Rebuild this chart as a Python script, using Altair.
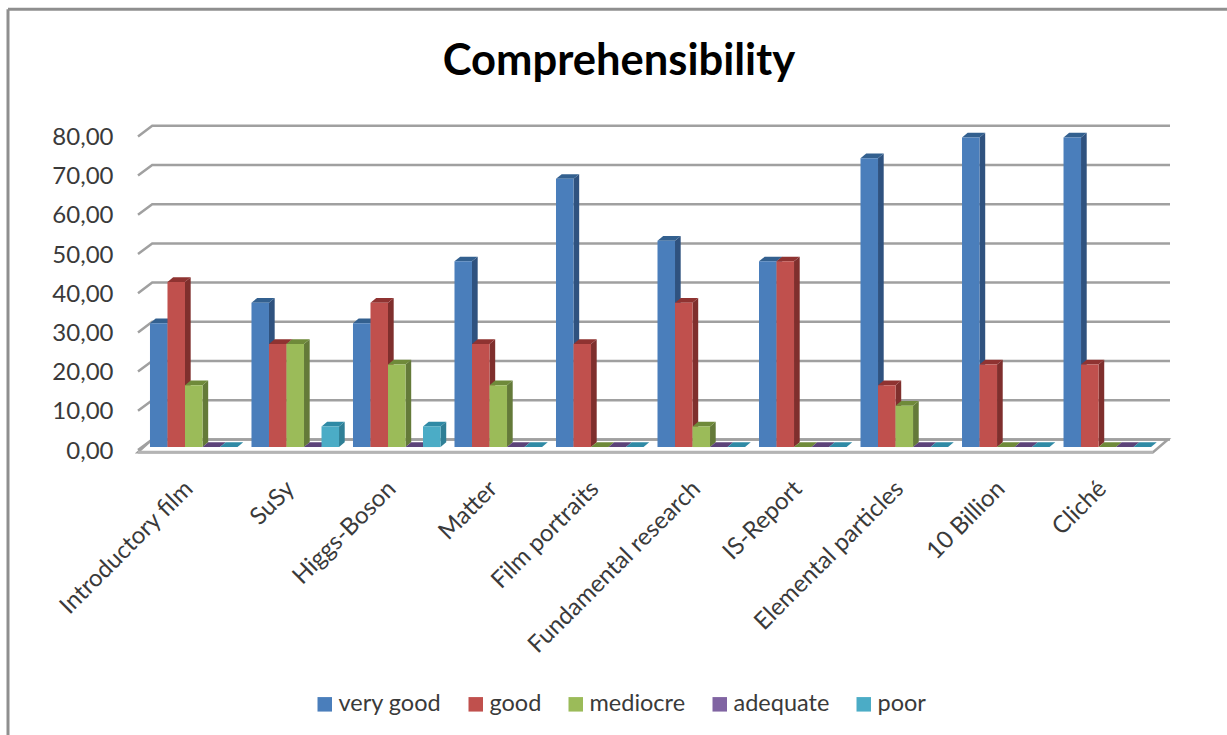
import altair as alt
import pandas as pd

# Share of answers per rating, percent of respondents
categories = ["Introductory film", "SuSy", "Higgs-Boson", "Matter", "Film portraits",
              "Fundamental research", "IS-Report", "Elemental particles", "10 Billion", "Cliché"]
series = ["very good", "good", "mediocre", "adequate", "poor"]
very_good = [31.58, 36.84, 31.58, 47.37, 68.42, 52.63, 47.37, 73.68, 78.95, 78.95]
good = [42.11, 26.32, 36.84, 26.32, 26.32, 36.84, 47.37, 15.79, 21.05, 21.05]
mediocre = [15.79, 26.32, 21.05, 15.79, 0, 5.26, 0, 10.53, 0, 0]
adequate = [0, 0, 0, 0, 0, 0, 0, 0, 0, 0]
poor = [0, 5.26, 5.26, 0, 0, 0, 0, 0, 0, 0]
ticks = [0, 10, 20, 30, 40, 50, 60, 70, 80]

front_colors = ["#4a7ebb", "#c0504d", "#9bbb59", "#8064a2", "#4bacc6"]
top_colors = ["#33608f", "#8f3331", "#6f8a3a", "#5c4379", "#2f8aa5"]
side_colors = ["#2f527f", "#7f2f2d", "#647a39", "#533c6c", "#2f7f96"]

FONT = "Lato"
TEXT = "#3a3a3a"
GRID = "#a0a0a0"

# Pseudo-3D projection, expressed in axis units
bar_w = 0.1725     # one bar, in category units
depth_x = 0.056    # bar depth along x
depth_y = 1.2      # bar depth along y
base_y = 0.75      # bars stand slightly behind the front edge of the floor
wall_x = 0.14      # wall depth along x
wall_y = 2.7       # wall depth along y
x_min, x_max = -0.118, 10.049
y_min, y_max = -1, 90

fronts, sides, tops = [], [], []
for s, (name, values) in enumerate(zip(series, [very_good, good, mediocre, adequate, poor])):
    for c, v in enumerate(values):
        x0 = c + s * bar_w
        x1 = x0 + bar_w
        yv = v + base_y
        fronts.append(dict(series=name, x=x0, x2=x1, y=base_y, y2=yv))
        sides += [
            dict(series=name, bar=c, x=x1, lo=base_y, hi=yv),
            dict(series=name, bar=c, x=x1 + depth_x, lo=base_y + depth_y, hi=yv + depth_y),
        ]
        tops += [
            dict(series=name, bar=c, x=x0, lo=yv, hi=yv),
            dict(series=name, bar=c, x=x0 + depth_x, lo=yv, hi=yv + depth_y),
            dict(series=name, bar=c, x=x1, lo=yv, hi=yv + depth_y),
            dict(series=name, bar=c, x=x1 + depth_x, lo=yv + depth_y, hi=yv + depth_y),
        ]
fronts, sides, tops = pd.DataFrame(fronts), pd.DataFrame(sides), pd.DataFrame(tops)

# Back-wall gridlines with their slanted run along the side wall
grid_rows = []
for t in ticks:
    grid_rows += [
        dict(tick=t, step=0, x=x_min, y=t),
        dict(tick=t, step=1, x=x_min + wall_x, y=t + wall_y),
        dict(tick=t, step=2, x=x_max, y=t + wall_y),
    ]
grid_df = pd.DataFrame(grid_rows)

# Outline of the floor
floor_df = pd.DataFrame([
    dict(step=0, x=x_min, y=-0.55),
    dict(step=1, x=9.882, y=-0.55),
    dict(step=2, x=x_max - 0.02, y=wall_y),
    dict(step=3, x=x_min + wall_x, y=wall_y),
])
floor_front = floor_df[floor_df.step < 2]

x_scale = alt.Scale(domain=[x_min, x_max], nice=False, zero=False)
y_scale = alt.Scale(domain=[y_min, y_max], nice=False, zero=False)

centers = [c + 2.5 * bar_w for c in range(len(categories))]
names_js = "[" + ",".join('"%s"' % n for n in categories) + "]"
x_axis = alt.Axis(
    values=centers, title=None, grid=False, domain=False, ticks=False,
    labelExpr=f"{names_js}[round(datum.value - {2.5 * bar_w})]",
    labelAngle=-45, labelAlign="right", labelBaseline="middle",
    labelPadding=31, labelOffset=-5, labelFont=FONT, labelFontSize=24, labelColor=TEXT,
    labelOverlap=False, labelBound=False, labelFlush=False, labelLimit=400,
)
y_axis = alt.Axis(
    values=ticks, title=None, grid=False, domain=False, ticks=False,
    labelExpr="replace(format(datum.value, '.2f'), '.', ',')",
    labelPadding=25, labelOffset=1, labelFont=FONT, labelFontSize=24, labelColor=TEXT,
)
X = lambda field: alt.X(field, scale=x_scale, axis=x_axis)
Y = lambda field: alt.Y(field, scale=y_scale, axis=y_axis)

grid = alt.Chart(grid_df).mark_line(color=GRID, strokeWidth=2.5).encode(
    x=X("x:Q"), y=Y("y:Q"), detail="tick:N", order="step:Q",
)
floor = alt.Chart(floor_df).mark_line(color=GRID, strokeWidth=2.5, interpolate="linear-closed").encode(
    x=X("x:Q"), y=Y("y:Q"), order="step:Q",
)
floor_edge = alt.Chart(floor_front).mark_line(color="#b4b4b4", strokeWidth=3).encode(
    x=X("x:Q"), y=Y("y:Q"), order="step:Q",
)

layers = [grid, floor, floor_edge]

# Side and top faces, drawn series by series so nearer bars overlap earlier ones
for name, side_col, top_col in zip(series, side_colors, top_colors):
    for table, col in ((sides, side_col), (tops, top_col)):
        layers.append(
            alt.Chart(table[table.series == name]).mark_area(color=col, orient="vertical").encode(
                x=X("x:Q"), y=Y("lo:Q"), y2="hi:Q", detail="bar:N",
            )
        )

# Front faces carry the colour legend
front = alt.Chart(fronts).mark_bar().encode(
    x=X("x:Q"),
    x2="x2:Q",
    y=Y("y:Q"),
    y2="y2:Q",
    color=alt.Color(
        "series:N",
        scale=alt.Scale(domain=series, range=front_colors),
        legend=alt.Legend(
            title=None, orient="none", direction="horizontal", columns=5,
            legendX=175, legendY=595, symbolType="square", symbolSize=210,
            symbolStrokeWidth=0, labelFont=FONT, labelFontSize=23.5, labelColor=TEXT,
            labelOffset=2, columnPadding=22,
        ),
    ),
)
layers.append(front)

# Chart frame, open on the right and at the bottom
FRAME = "#8f8f8f"
frame_top = alt.Chart(pd.DataFrame({"a": [0]})).mark_rule(color=FRAME, strokeWidth=3).encode(
    x=alt.value(-130), x2=alt.value(1089), y=alt.value(-88)
)
frame_left = alt.Chart(pd.DataFrame({"a": [0]})).mark_rule(color=FRAME, strokeWidth=3).encode(
    x=alt.value(-130), y=alt.value(-88), y2=alt.value(638)
)
layers += [frame_top, frame_left]

chart = alt.layer(*layers).properties(
    width=1032,
    height=356.72,
    padding={"left": 138, "right": 57, "top": 97.2, "bottom": 281.08},
    autosize=alt.AutoSizeParams(type="none"),
    background="white",
    title=alt.TitleParams(
        "Comprehensibility", font=FONT, fontSize=43.5, fontWeight="bold", color="#000000",
        anchor="middle", dx=-35, dy=95, offset=18,
    ),
).configure_view(stroke=None)

chart.save("out.html", embed_options={"renderer": "svg", "actions": False})
